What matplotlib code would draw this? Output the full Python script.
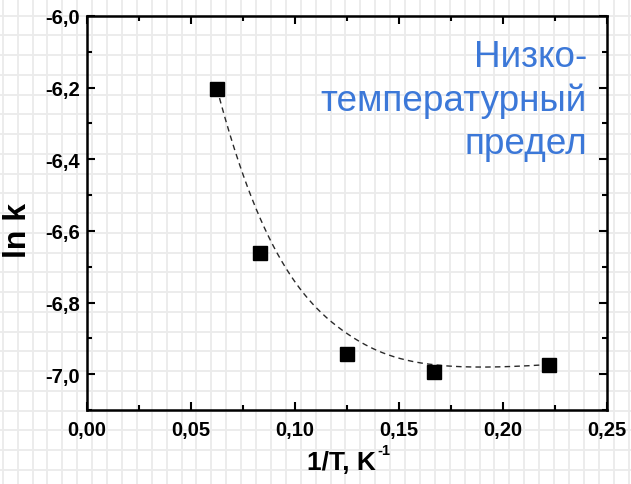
import numpy as np
import matplotlib
matplotlib.use("Agg")
import matplotlib.pyplot as plt
from matplotlib.ticker import MultipleLocator, FuncFormatter

# data
inv_T = [0.0625, 0.0833, 0.125, 0.1667, 0.2222]
ln_k = [-6.203, -6.662, -6.945, -6.994, -6.973]
note = "Низко-\nтемпературный\nпредел"

plt.rcParams['font.family'] = ['Liberation Sans', 'DejaVu Sans']


# clamped cubic B-spline using the data points as control points
def bspline(px, py, k=3, n=300):
    m = len(px)
    inner = np.linspace(0, 1, m - k + 1)
    knots = np.concatenate([[0] * k, inner, [1] * k])
    t = np.linspace(0, 1, n)

    def basis(i, d, t):
        if d == 0:
            b = ((knots[i] <= t) & (t < knots[i + 1])).astype(float)
            if knots[i + 1] == 1 and knots[i] < 1:
                b[t == 1] = 1.0
            return b
        out = np.zeros_like(t)
        if knots[i + d] > knots[i]:
            out += (t - knots[i]) / (knots[i + d] - knots[i]) * basis(i, d - 1, t)
        if knots[i + d + 1] > knots[i + 1]:
            out += (knots[i + d + 1] - t) / (knots[i + d + 1] - knots[i + 1]) * basis(i + 1, d - 1, t)
        return out

    B = np.array([basis(i, k, t) for i in range(m)])
    return B.T @ np.array(px), B.T @ np.array(py)


W, H = 631, 485
fig = plt.figure(figsize=(W / 100, H / 100), dpi=100)

# graph-paper background
bg = fig.add_axes([0, 0, 1, 1], zorder=-1)
bg.set_xlim(0, W)
bg.set_ylim(H, 0)
bg.axis('off')
for gx in np.arange(2.7, W, 14.9):
    bg.axvline(gx, color='#ebebeb', lw=1.3)
for gy in np.arange(16.7, H, 19.75):
    bg.axhline(gy, color='#ebebeb', lw=1.3)

ax = fig.add_axes([87 / W, 1 - 411 / H, 520 / W, 394 / H])
ax.patch.set_alpha(0)

sx, sy = bspline(inv_T, ln_k)
ax.plot(sx, sy, ls=(0, (4, 3)), color='#2a2a2a', lw=1.0)
ax.plot(inv_T, ln_k, 's', color='black', ms=9.5)

ax.set_xlim(0, 0.25)
ax.set_ylim(-7.1, -6.0)
ax.xaxis.set_major_locator(MultipleLocator(0.05))
ax.xaxis.set_minor_locator(MultipleLocator(0.025))
ax.yaxis.set_major_locator(MultipleLocator(0.2))
ax.yaxis.set_minor_locator(MultipleLocator(0.1))
ax.xaxis.set_major_formatter(FuncFormatter(lambda v, p: f"{v:.2f}".replace('.', ',')))
ax.yaxis.set_major_formatter(FuncFormatter(lambda v, p: f"{v:.1f}".replace('.', ',')))

for s in ax.spines.values():
    s.set_linewidth(1.8)
ax.tick_params(which='both', direction='in', top=True, right=True, width=1.5)
ax.tick_params(which='major', length=6, labelsize=14.5)
ax.tick_params(axis='x', which='major', pad=7)
ax.tick_params(axis='y', which='major', pad=5)
ax.tick_params(which='minor', length=3.5)
for lab in ax.get_xticklabels() + ax.get_yticklabels():
    lab.set_fontweight('bold')

ax.set_xlabel("1/T, K", fontsize=19, fontweight='bold')
ax.xaxis.set_label_coords(0.49, -0.102)
ax.set_ylabel("ln k", fontsize=23, fontweight='bold')
ax.yaxis.set_label_coords(-0.104, 0.457)
ax.annotate("-1", xy=(1.0, 0.72), xycoords=ax.xaxis.label, xytext=(1, 0),
            textcoords='offset points', ha='left', va='bottom',
            fontsize=10.5, fontweight='bold')

fig.text(587 / W, 1 - 40 / H, note, ha='right', va='top', color='#3c78d8',
         fontsize=26.6, linespacing=1.31, multialignment='right')

fig.savefig("out.png", dpi=100)
